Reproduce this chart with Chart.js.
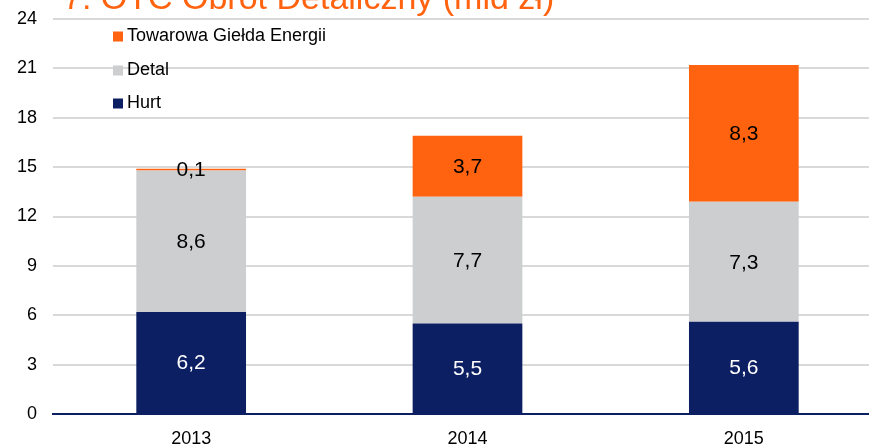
<!DOCTYPE html>
<html>
<head>
<meta charset="utf-8">
<script src="https://cdn.jsdelivr.net/npm/chart.js@4/dist/chart.umd.min.js"></script>
<style>
  html, body { margin: 0; padding: 0; background: #fff; overflow: hidden; }
  #wrap { position: relative; width: 882px; height: 444px; }
</style>
</head>
<body>
<div id="wrap"><canvas id="obrotChart" width="882" height="444"></canvas></div>
<script>
// DATA
var years = ['2013', '2014', '2015'];
var hurt = [6.2, 5.5, 5.6];
var detal = [8.6, 7.7, 7.3];
var tge = [0.1, 3.7, 8.3];
var yTicks = [0, 3, 6, 9, 12, 15, 18, 21, 24];
var titleText = '7. OTC Obrót Detaliczny (mld zł)';

var FONT = '"Liberation Sans", Arial, sans-serif';
var NAVY = '#0D1F63';
var GREY = '#CDCED0';
var ORANGE = '#FF6310';

// title (cut off at the top like in the source) + legend + values
var decorPlugin = {
    id: 'decor',
    afterDatasetsDraw: function(chart) {
        let ctx = chart.ctx;
        ctx.save();

        // values inside the segments
        ctx.font = '21px ' + FONT;
        ctx.textAlign = 'center';
        ctx.textBaseline = 'middle';
        chart.data.datasets.forEach(function(ds, i) {
            chart.getDatasetMeta(i).data.forEach(function(bar, j) {
                let y = (bar.y + bar.base) / 2;
                ctx.fillStyle = ds.labelColor;
                ctx.fillText(ds.data[j].toFixed(1).replace('.', ','), bar.x, y + 1);
            });
        });

        // legend, top to bottom in reverse order
        ctx.font = '18px ' + FONT;
        ctx.textAlign = 'left';
        let rows = [36.5, 70.5, 103.5];
        let order = chart.data.datasets.slice().reverse();
        order.forEach(function(ds, k) {
            ctx.fillStyle = ds.backgroundColor;
            ctx.fillRect(113, rows[k] - 5, 10, 10);
            ctx.fillStyle = '#000';
            ctx.fillText(ds.label, 127, rows[k]);
        });

        // title
        ctx.font = '34px ' + FONT;
        ctx.fillStyle = ORANGE;
        ctx.textBaseline = 'alphabetic';
        ctx.fillText(titleText, 63, 9);
        ctx.restore();
    }
};

let ctx_bar = document.getElementById('obrotChart').getContext('2d');

let myBarChart = new Chart(ctx_bar, {
    type: 'bar',
    data: {
        labels: years,
        datasets: [
            {label: 'Hurt', data: hurt, backgroundColor: NAVY, labelColor: '#fff'},
            {label: 'Detal', data: detal, backgroundColor: GREY, labelColor: '#000'},
            {label: 'Towarowa Giełda Energii', data: tge, backgroundColor: ORANGE, labelColor: '#000'}
        ]
    },
    options: {
        responsive: false,
        animation: false,
        devicePixelRatio: 1,
        layout: {padding: {top: 19, right: 0, left: 0, bottom: 0}},
        datasets: {bar: {barPercentage: 0.397, categoryPercentage: 1.0, borderWidth: 0}},
        plugins: {legend: {display: false}, tooltip: {enabled: false}, title: {display: false}},
        scales: {
            x: {
                stacked: true,
                grid: {display: false},
                border: {color: NAVY, width: 2},
                ticks: {color: '#000', font: {family: FONT, size: 18}, padding: 6},
                afterFit: function(s) { s.height = 30; }
            },
            y: {
                stacked: true,
                min: yTicks[0],
                max: yTicks[yTicks.length - 1],
                afterBuildTicks: function(s) { s.ticks = yTicks.map(function(v) { return {value: v}; }); },
                grid: {color: '#D9D9D9', lineWidth: 2, drawTicks: false},
                border: {display: false},
                ticks: {color: '#000', font: {family: FONT, size: 18}, padding: 16, autoSkip: false},
                afterFit: function(s) { s.width = 53; s.paddingTop = 0; s.paddingBottom = 0; }
            }
        }
    },
    plugins: [decorPlugin]
});
</script>
</body>
</html>
